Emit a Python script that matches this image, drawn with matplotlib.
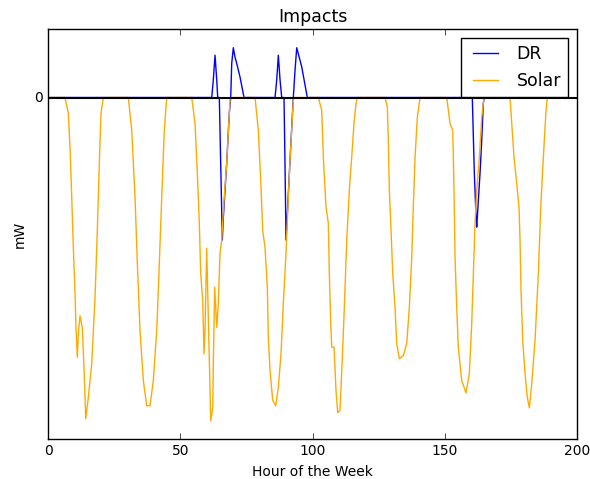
import matplotlib
matplotlib.use("Agg")
import matplotlib.pyplot as plt

plt.style.use("classic")
plt.rcParams["figure.facecolor"] = "white"
plt.rcParams["savefig.facecolor"] = "white"
plt.rcParams["font.family"] = "DejaVu Sans"

# solar output over the week (negative = generation offsetting load)
solar_hours = [
    0.0, 6.3,
    7.57, 8.21, 8.86, 9.46, 10.1, 10.48, 10.98, 11.36, 12.0, 12.87, 13.51,
    14.16, 15.14, 16.43, 17.68, 18.55, 19.3, 19.95, 20.8,
    30.28, 31.57, 32.82, 33.69, 34.71, 35.96, 37.24, 38.49, 39.74, 41.03,
    42.02, 42.92, 43.91, 44.81,
    54.28, 55.53, 56.4, 57.15, 57.68, 58.44, 58.93, 59.31, 59.95, 61.47,
    62.23, 62.45, 62.98, 63.74, 64.35, 64.99, 65.63, 66.24, 67.52, 68.77, 69.15,
    78.24, 79.49, 80.39, 81.15, 82.02, 82.89, 83.27, 83.91, 84.93, 86.07,
    87.06, 88.08, 88.95, 89.97, 90.46, 91.48, 92.73, 93.0,
    102.2, 103.48, 104.09, 105.11, 105.98, 106.36, 106.89, 107.27, 108.14,
    108.89, 109.54, 110.41, 111.28, 112.04, 112.95, 113.93, 114.84, 115.71,
    116.47, 116.96,
    127.45, 128.32, 128.69, 129.07, 129.6, 130.36, 131.23, 131.87, 132.85,
    134.37, 135.65, 136.64, 137.55, 138.15, 138.8, 139.67, 140.69,
    150.8, 152.05, 153.07, 153.56, 153.94, 154.58, 155.19, 156.47, 158.1,
    159.35, 160.26, 160.87, 161.51, 162.15, 163.14, 164.04, 164.91,
    174.75, 175.4, 176.27, 177.29, 178.16, 178.54, 178.92, 179.56, 180.44,
    181.31, 182.07, 182.97, 184.22, 185.47, 186.38, 187.36, 188.38, 188.87,
    192.0,
]
solar_mw = [
    0.0, 0.0,
    -0.23, -0.73, -1.46, -2.19, -2.87, -3.39, -3.81, -3.46, -3.2, -3.38, -3.96,
    -4.71, -4.4, -3.9, -2.93, -1.95, -0.96, -0.23, 0.0,
    0.0, -0.48, -1.46, -2.43, -3.42, -4.15, -4.52, -4.52, -4.15, -3.42,
    -2.43, -1.46, -0.48, 0.0,
    0.0, -0.38, -1.11, -1.84, -2.58, -2.98, -3.76, -3.42, -2.21, -4.74,
    -4.55, -3.9, -2.78, -3.37, -3.02, -2.28, -2.09, -1.65, -0.96, -0.04, 0.0,
    0.0, -0.48, -1.21, -1.95, -2.2, -2.78, -3.52, -4.0, -4.44, -4.52,
    -4.25, -3.75, -3.02, -2.28, -1.8, -0.92, -0.04, 0.0,
    0.0, -0.19, -0.87, -1.61, -1.84, -2.58, -3.31, -3.66, -3.66,
    -4.3, -4.62, -4.59, -3.81, -3.08, -2.09, -1.36, -0.87, -0.37,
    -0.08, 0.0,
    0.0, -0.14, -0.63, -1.36, -1.84, -2.58, -3.08, -3.61, -3.83,
    -3.78, -3.61, -3.08, -2.34, -1.61, -0.88, -0.29, 0.0,
    0.0, -0.38, -0.48, -1.36, -2.34, -3.08, -3.67, -4.15, -4.33,
    -4.05, -3.31, -2.58, -1.84, -1.36, -0.88, -0.29, 0.0,
    0.0, -0.38, -0.88, -1.26, -1.61, -2.09, -2.83, -3.56, -4.05,
    -4.4, -4.55, -4.2, -3.56, -2.58, -1.61, -0.88, -0.19, 0.0,
    0.0,
]

# demand response dispatch
dr_hours = [
    0.0,
    61.85, 62.45, 63.1, 63.74, 64.12, 64.72, 65.37, 65.86, 66.24, 67.52,
    68.5, 69.04, 69.42, 70.02, 70.67, 71.31, 72.56, 74.07,
    85.81, 86.45, 87.06, 87.7, 88.34, 89.21, 89.59, 89.97, 90.73, 91.48,
    92.73, 93.38, 94.02, 95.91, 98.03,
    157.5, 158.0, 158.5, 159.6, 159.9, 160.2, 160.48, 161.24, 161.89,
    162.15, 162.76, 163.4, 164.04, 164.65, 165.03, 165.3, 165.6,
    169.6, 169.9, 170.2,
    192.0,
]
dr_mw = [
    0.0,
    0.0, 0.26, 0.62, 0.26, 0.0, 0.0, -1.2, -2.09, -1.76, -0.96,
    -0.23, 0.0, 0.5, 0.73, 0.59, 0.5, 0.3, 0.0,
    0.0, 0.26, 0.62, 0.26, 0.0, 0.0, -1.0, -2.09, -1.5, -0.92,
    0.0, 0.4, 0.73, 0.45, 0.0,
    0.0, 0.06, 0.0, 0.0, 0.06, 0.0, 0.0, -1.11, -1.75,
    -1.9, -1.51, -1.11, -0.63, -0.08, 0.0, 0.06, 0.0,
    0.0, 0.06, 0.0,
    0.0,
]

fig = plt.figure(figsize=(5.9, 4.79), dpi=100)
ax = fig.add_axes([0.0819, 0.0845, 0.8956, 0.8543])

ax.plot(dr_hours, dr_mw, color="b", lw=1.0, label="DR")
ax.plot(solar_hours, solar_mw, color="#FFAA00", lw=1.0, label="Solar")
ax.axhline(0, color="k", lw=1.5, zorder=3)

ax.set_xlim(0, 200)
ax.set_ylim(-5.0, 1.0)
ax.set_xticks([0, 50, 100, 150, 200])
ax.set_yticks([0])
ax.tick_params(labelsize=10)

ax.set_title("Impacts", fontsize=12.5)
ax.set_xlabel("Hour of the Week", fontsize=10)
ax.set_ylabel("mW", fontsize=10)

ax.legend(loc="upper right", fontsize=12.5, handlelength=2.0)

fig.savefig("out.png", dpi=100)
